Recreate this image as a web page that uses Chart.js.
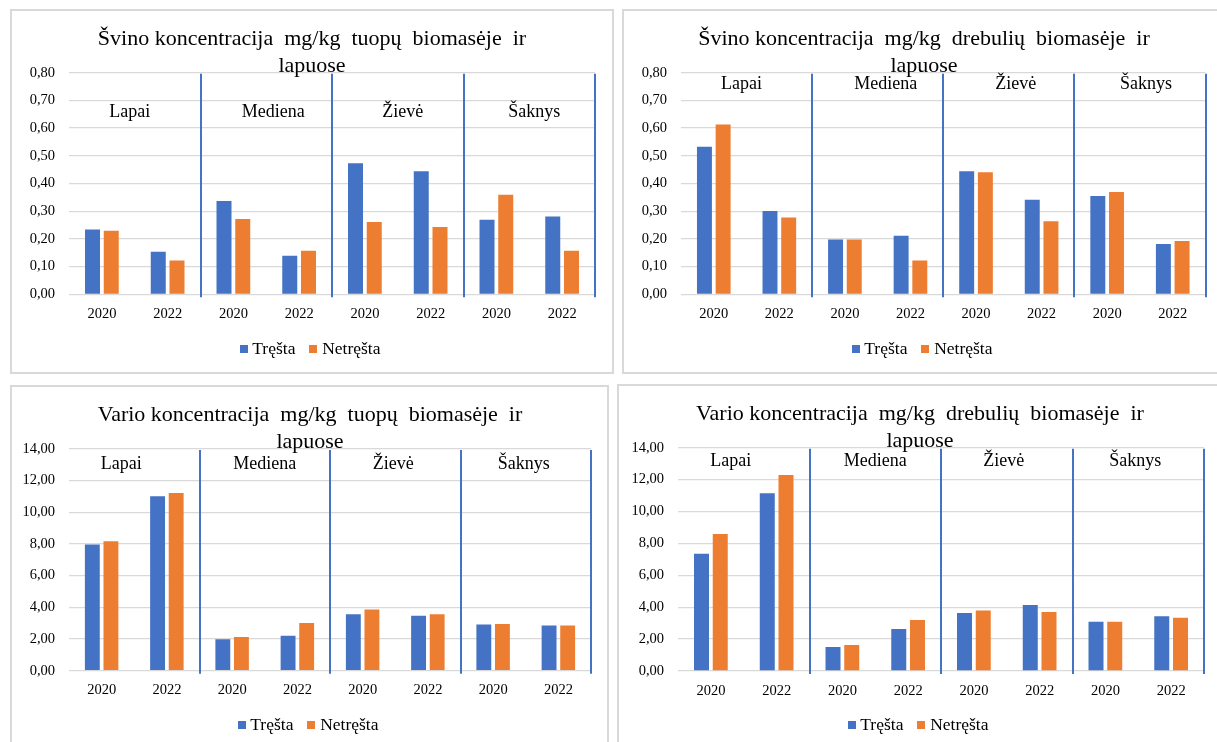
<!DOCTYPE html>
<html>
<head>
<meta charset="utf-8">
<script src="https://cdn.jsdelivr.net/npm/chart.js@4/dist/chart.umd.min.js"></script>
<style>
  html, body { margin: 0; padding: 0; background: #fff; }
  body { position: relative; width: 1217px; height: 742px; overflow: hidden; }
  .panel { position: absolute; border: 2px solid #d9d9d9; box-sizing: border-box; background: #fff; }
  canvas { position: absolute; }
</style>
</head>
<body>
<div class="panel" style="left:10px;top:9px;width:604px;height:365px"></div>
<div class="panel" style="left:622px;top:9px;width:620px;height:365px"></div>
<div class="panel" style="left:10px;top:385px;width:599px;height:400px"></div>
<div class="panel" style="left:617px;top:384px;width:620px;height:400px"></div>

<canvas id="pbPoplar" width="600" height="361" style="left:12px;top:11px"></canvas>
<canvas id="pbAspen" width="600" height="361" style="left:624px;top:11px"></canvas>
<canvas id="cuPoplar" width="596" height="361" style="left:12px;top:387px"></canvas>
<canvas id="cuAspen" width="602" height="361" style="left:619px;top:386px"></canvas>

<script>
// Categories: sampling year inside each plant part
const yearLabels = ['2020', '2022', '2020', '2022', '2020', '2022', '2020', '2022'];
const partNames = ['Lapai', 'Mediena', 'Žievė', 'Šaknys'];
const seriesNames = ['Tręšta', 'Netręšta'];

// Lead (Pb), mg/kg
const pbPoplarFertilized   = [0.234, 0.154, 0.337, 0.139, 0.473, 0.444, 0.269, 0.281];
const pbPoplarUnfertilized = [0.229, 0.122, 0.272, 0.157, 0.261, 0.243, 0.359, 0.157];
const pbAspenFertilized    = [0.533, 0.301, 0.198, 0.211, 0.444, 0.341, 0.355, 0.182];
const pbAspenUnfertilized  = [0.613, 0.277, 0.198, 0.122, 0.441, 0.264, 0.369, 0.192];

// Copper (Cu), mg/kg
const cuPoplarFertilized   = [7.97, 11.01, 1.98, 2.21, 3.56, 3.47, 2.91, 2.86];
const cuPoplarUnfertilized = [8.17, 11.22, 2.13, 3.01, 3.87, 3.56, 2.95, 2.86];
const cuAspenFertilized    = [7.35, 11.14, 1.50, 2.63, 3.64, 4.14, 3.09, 3.43];
const cuAspenUnfertilized  = [8.59, 12.29, 1.63, 3.20, 3.80, 3.70, 3.09, 3.34];

// Value axes
const pbAxisMax = 0.8, pbAxisStep = 0.1;
const cuAxisMax = 14, cuAxisStep = 2;

const titlePbPoplar = ['Švino koncentracija  mg/kg  tuopų  biomasėje  ir', 'lapuose'];
const titlePbAspen  = ['Švino koncentracija  mg/kg  drebulių  biomasėje  ir', 'lapuose'];
const titleCuPoplar = ['Vario koncentracija  mg/kg  tuopų  biomasėje  ir', 'lapuose'];
const titleCuAspen  = ['Vario koncentracija  mg/kg  drebulių  biomasėje  ir', 'lapuose'];

const BLUE = '#4472C4';
const ORANGE = '#ED7D31';
const GRID = '#d9d9d9';
const FONT = "'Liberation Serif', 'Times New Roman', serif";

const TITLE_SIZE = 22, TITLE_LH = 1.2;
const LEGEND_SIZE = 17.5, LEGEND_PAD = 18;

// Small square legend swatches, drawn close to their text
function swatch(color) {
  const c = document.createElement('canvas');
  c.width = 8; c.height = 8;
  const g = c.getContext('2d');
  g.fillStyle = color;
  g.fillRect(0, 0, 8, 8);
  return c;
}
const swatches = [swatch(BLUE), swatch(ORANGE)];

// Part names above each pair of years, plus blue dividers between parts
const partSections = {
  id: 'partSections',
  afterDatasetsDraw(chart, args, opts) {
    const { ctx, chartArea, scales: { x } } = chart;
    const step = x.getPixelForValue(1) - x.getPixelForValue(0);
    ctx.save();
    ctx.strokeStyle = BLUE;
    ctx.lineWidth = 2;
    ctx.fillStyle = '#000';
    ctx.font = `18px ${FONT}`;
    ctx.textAlign = 'center';
    ctx.textBaseline = 'middle';
    partNames.forEach((name, i) => {
      const right = Math.round(x.getPixelForValue(2 * i + 1) + step / 2);
      ctx.beginPath();
      ctx.moveTo(right, chartArea.top + 1);
      ctx.lineTo(right, chartArea.bottom + 3);
      ctx.stroke();
      const cx = (x.getPixelForValue(2 * i) + x.getPixelForValue(2 * i + 1)) / 2;
      ctx.fillText(name, cx + opts.labelShift[i], chartArea.top + opts.labelOffset);
    });
    ctx.restore();
  }
};

function fmt(v) {
  return v.toFixed(2).replace('.', ',');
}

function drawPanel(id, title, fertilized, unfertilized, axisMax, axisStep, box) {
  const canvas = document.getElementById(id);
  const H = canvas.height;
  const lh = TITLE_SIZE * TITLE_LH;
  const titlePadTop = box.t1 - lh / 2;
  const titlePadBottom = box.top - titlePadTop - 2 * lh;
  const legendH = LEGEND_SIZE + LEGEND_PAD + 10;
  const padBottom = H - box.legendY - 10 - LEGEND_SIZE / 2;
  const xAxisH = H - padBottom - legendH - box.bottom;

  new Chart(canvas, {
    type: 'bar',
    data: {
      labels: yearLabels,
      datasets: [
        { label: seriesNames[0], data: fertilized, backgroundColor: BLUE, borderWidth: 0,
          categoryPercentage: 0.57, barPercentage: 0.8 },
        { label: seriesNames[1], data: unfertilized, backgroundColor: ORANGE, borderWidth: 0,
          categoryPercentage: 0.57, barPercentage: 0.8 }
      ]
    },
    options: {
      responsive: false,
      animation: false,
      devicePixelRatio: 1,
      layout: { padding: { top: 0, left: 0, right: 0, bottom: padBottom } },
      plugins: {
        title: {
          display: true,
          text: title,
          color: '#000',
          font: { family: FONT, size: TITLE_SIZE, weight: 'normal', lineHeight: TITLE_LH },
          padding: { top: titlePadTop, bottom: titlePadBottom }
        },
        legend: {
          position: 'bottom',
          labels: {
            usePointStyle: true, pointStyleWidth: 0.01, boxHeight: 8,
            padding: LEGEND_PAD, color: '#000',
            font: { family: FONT, size: LEGEND_SIZE },
            generateLabels(chart) {
              const items = Chart.defaults.plugins.legend.labels.generateLabels(chart);
              items.forEach((item, i) => { item.pointStyle = swatches[i]; });
              return items;
            }
          }
        },
        tooltip: { enabled: false },
        partSections: { labelOffset: box.labelOffset, labelShift: box.labelShift }
      },
      scales: {
        x: {
          grid: { display: false },
          border: { display: false },
          ticks: { color: '#000', font: { family: FONT, size: 14.5 }, padding: 3,
                   maxRotation: 0, autoSkip: false },
          afterFit(s) { s.height = xAxisH; }
        },
        y: {
          min: 0, max: axisMax,
          ticks: { stepSize: axisStep, color: '#000', font: { family: FONT, size: 14.5 },
                   padding: 14, callback: v => fmt(v) },
          grid: { color: GRID, lineWidth: 1.3, drawTicks: false },
          border: { display: false },
          afterFit(s) { s.width = box.left; }
        },
        gutter: {
          type: 'linear', position: 'right', display: true,
          grid: { display: false }, border: { display: false }, ticks: { display: false },
          afterFit(s) { s.width = box.right; }
        }
      }
    },
    plugins: [partSections]
  });
}

drawPanel('pbPoplar', titlePbPoplar, pbPoplarFertilized, pbPoplarUnfertilized, pbAxisMax, pbAxisStep,
  { left: 57, right: 17, top: 61.7, bottom: 283.3, t1: 28.7, legendY: 338,
    labelOffset: 40, labelShift: [-5, 7, 5, 5] });
drawPanel('pbAspen', titlePbAspen, pbAspenFertilized, pbAspenUnfertilized, pbAxisMax, pbAxisStep,
  { left: 57, right: 18.5, top: 61.7, bottom: 283.3, t1: 28.7, legendY: 338,
    labelOffset: 11.5, labelShift: [-5, 8, 7, 6] });
drawPanel('cuPoplar', titleCuPoplar, cuPoplarFertilized, cuPoplarUnfertilized, cuAxisMax, cuAxisStep,
  { left: 57, right: 17, top: 62, bottom: 283.7, t1: 28.5, legendY: 338,
    labelOffset: 15, labelShift: [-13, 0, -2, -2] });
drawPanel('cuAspen', titleCuAspen, cuAspenFertilized, cuAspenUnfertilized, cuAxisMax, cuAxisStep,
  { left: 59, right: 17, top: 61.7, bottom: 285, t1: 28.5, legendY: 339,
    labelOffset: 13.3, labelShift: [-13, 0, -3, -3] });
</script>
</body>
</html>
